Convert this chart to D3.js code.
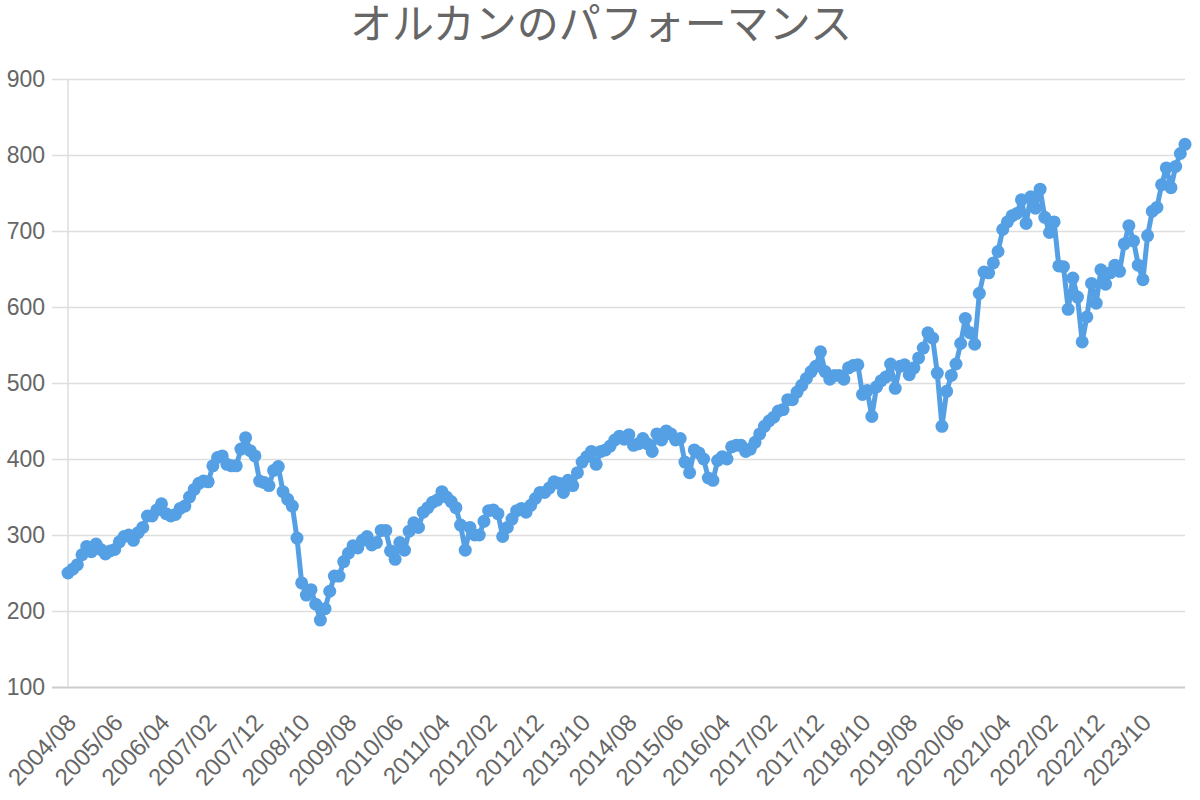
<!DOCTYPE html>
<html>
<head>
<meta charset="utf-8">
<script src="https://cdn.jsdelivr.net/npm/d3@7"></script>
<style>
  body { margin: 0; background: #fff; }
  text { font-family: "Liberation Sans", Arial, sans-serif; fill: #666; }
</style>
</head>
<body>
<script>
let svgWidth = 1200;
let svgHeight = 800;

// monthly values, 2004/08 .. 2024/07
let values = [
  250, 255, 261, 274, 285, 278, 288, 281, 275, 279,
  281, 291, 298, 300, 293, 303, 310, 325, 325, 333,
  341, 328, 325, 327, 335, 338, 350, 360, 368, 371,
  370, 391, 402, 404, 393, 391, 391, 413, 428, 411,
  404, 371, 369, 365, 385, 390, 357, 347, 338, 296,
  237, 221, 228, 209, 188, 203, 226, 246, 246, 265,
  276, 286, 283, 293, 298, 287, 290, 306, 306, 279,
  268, 290, 280, 305, 316, 310, 330, 336, 343, 346,
  357, 350, 344, 336, 313, 280, 310, 300, 300, 318,
  332, 333, 328, 298, 310, 321, 332, 335, 330, 339,
  348, 356, 356, 362, 370, 368, 356, 372, 365, 382,
  396, 403, 410, 393, 410, 412, 417, 425, 430, 426,
  432, 418, 420, 427, 420, 410, 433, 425, 437, 433,
  425, 427, 396, 382, 412, 408, 400, 375, 372, 398,
  403, 400, 416, 418, 418, 410, 413, 422, 433, 443,
  450, 455, 463, 465, 478, 478, 488, 497, 506, 515,
  522, 541, 515, 505, 510, 510, 505, 520, 523, 524,
  485, 490, 456, 495, 503, 508, 525, 493, 522, 524,
  511, 520, 533, 546, 566, 559, 513, 443, 489, 510,
  525, 552, 585, 566, 551, 618, 646, 645, 658, 673,
  702, 712, 720, 723, 741, 710, 745, 730, 755, 718,
  698, 712, 654, 653, 597, 638, 613, 554, 587, 631,
  605, 649, 630, 645, 655, 647, 683, 707, 687, 655,
  636, 694, 726, 731, 761, 783, 757, 785, 802, 814
];

let months = d3.timeMonth.range(new Date(2004, 7, 1), new Date(2024, 7, 1))
    .map(d3.timeFormat("%Y/%m"));

let tickLabels = [
  "2004/08", "2005/06", "2006/04", "2007/02", "2007/12", "2008/10",
  "2009/08", "2010/06", "2011/04", "2012/02", "2012/12", "2013/10",
  "2014/08", "2015/06", "2016/04", "2017/02", "2017/12", "2018/10",
  "2019/08", "2020/06", "2021/04", "2022/02", "2022/12", "2023/10"
];

let yTicks = [100, 200, 300, 400, 500, 600, 700, 800, 900];

let data = months.map((m, i) => ({ month: m, value: values[i] }));

let svg = d3.select("body")
    .append("svg")
    .attr("width", svgWidth)
    .attr("height", svgHeight);

let margin = { top: 79, right: 15, bottom: 113, left: 68 };
let chartWidth = svgWidth - margin.left - margin.right;
let chartHeight = svgHeight - margin.top - margin.bottom;

let chartGroup = svg.append("g")
    .attr("transform", `translate(${margin.left},${margin.top})`);

let xScale = d3.scalePoint()
    .domain(months)
    .range([0, chartWidth]);

let yScale = d3.scaleLinear()
    .domain([100, 900])
    .range([chartHeight, 0]);

// title
svg.append("text")
    .attr("x", 601)
    .attr("y", 39)
    .attr("text-anchor", "middle")
    .style("font-family", "'Noto Sans CJK JP', sans-serif")
    .style("font-size", "42px")
    .text("オルカンのパフォーマンス");

// y axis with gridlines
let leftAxis = d3.axisLeft(yScale)
    .tickValues(yTicks)
    .tickSize(-(chartWidth + 16))
    .tickPadding(7);

let yAxisG = chartGroup.append("g")
    .attr("transform", "translate(-16,0)")
    .call(leftAxis);
yAxisG.select(".domain").remove();
yAxisG.selectAll(".tick line")
    .attr("stroke", "#dedede")
    .attr("stroke-width", 1.5);
yAxisG.selectAll(".tick")
    .filter(d => d === 100)
    .select("line")
    .attr("stroke", "#cccccc")
    .attr("stroke-width", 2);
yAxisG.selectAll(".tick text")
    .style("font-size", "23px")
    .attr("fill", "#666");

// vertical axis line
chartGroup.append("line")
    .attr("x1", 0).attr("x2", 0)
    .attr("y1", 0).attr("y2", chartHeight)
    .attr("stroke", "#dedede")
    .attr("stroke-width", 1.5);

// x axis labels
let bottomAxis = d3.axisBottom(xScale)
    .tickValues(tickLabels)
    .tickSize(0)
    .tickPadding(0);

let xAxisG = chartGroup.append("g")
    .attr("transform", `translate(0,${chartHeight})`)
    .call(bottomAxis);
xAxisG.select(".domain").remove();
xAxisG.selectAll(".tick text")
    .style("font-size", "24px")
    .attr("fill", "#666")
    .attr("text-anchor", "end")
    .attr("dy", "0.35em")
    .attr("transform", "translate(3,31) rotate(-47)");

// line
let line = d3.line()
    .x(d => xScale(d.month))
    .y(d => yScale(d.value));

chartGroup.append("path")
    .datum(data)
    .attr("fill", "none")
    .attr("stroke", "#55a0e4")
    .attr("stroke-width", 5)
    .attr("stroke-linejoin", "round")
    .attr("d", line);

chartGroup.selectAll("circle")
    .data(data)
    .enter()
    .append("circle")
    .attr("cx", d => xScale(d.month))
    .attr("cy", d => yScale(d.value))
    .attr("r", 6.5)
    .attr("fill", "#55a0e4");
</script>
</body>
</html>
